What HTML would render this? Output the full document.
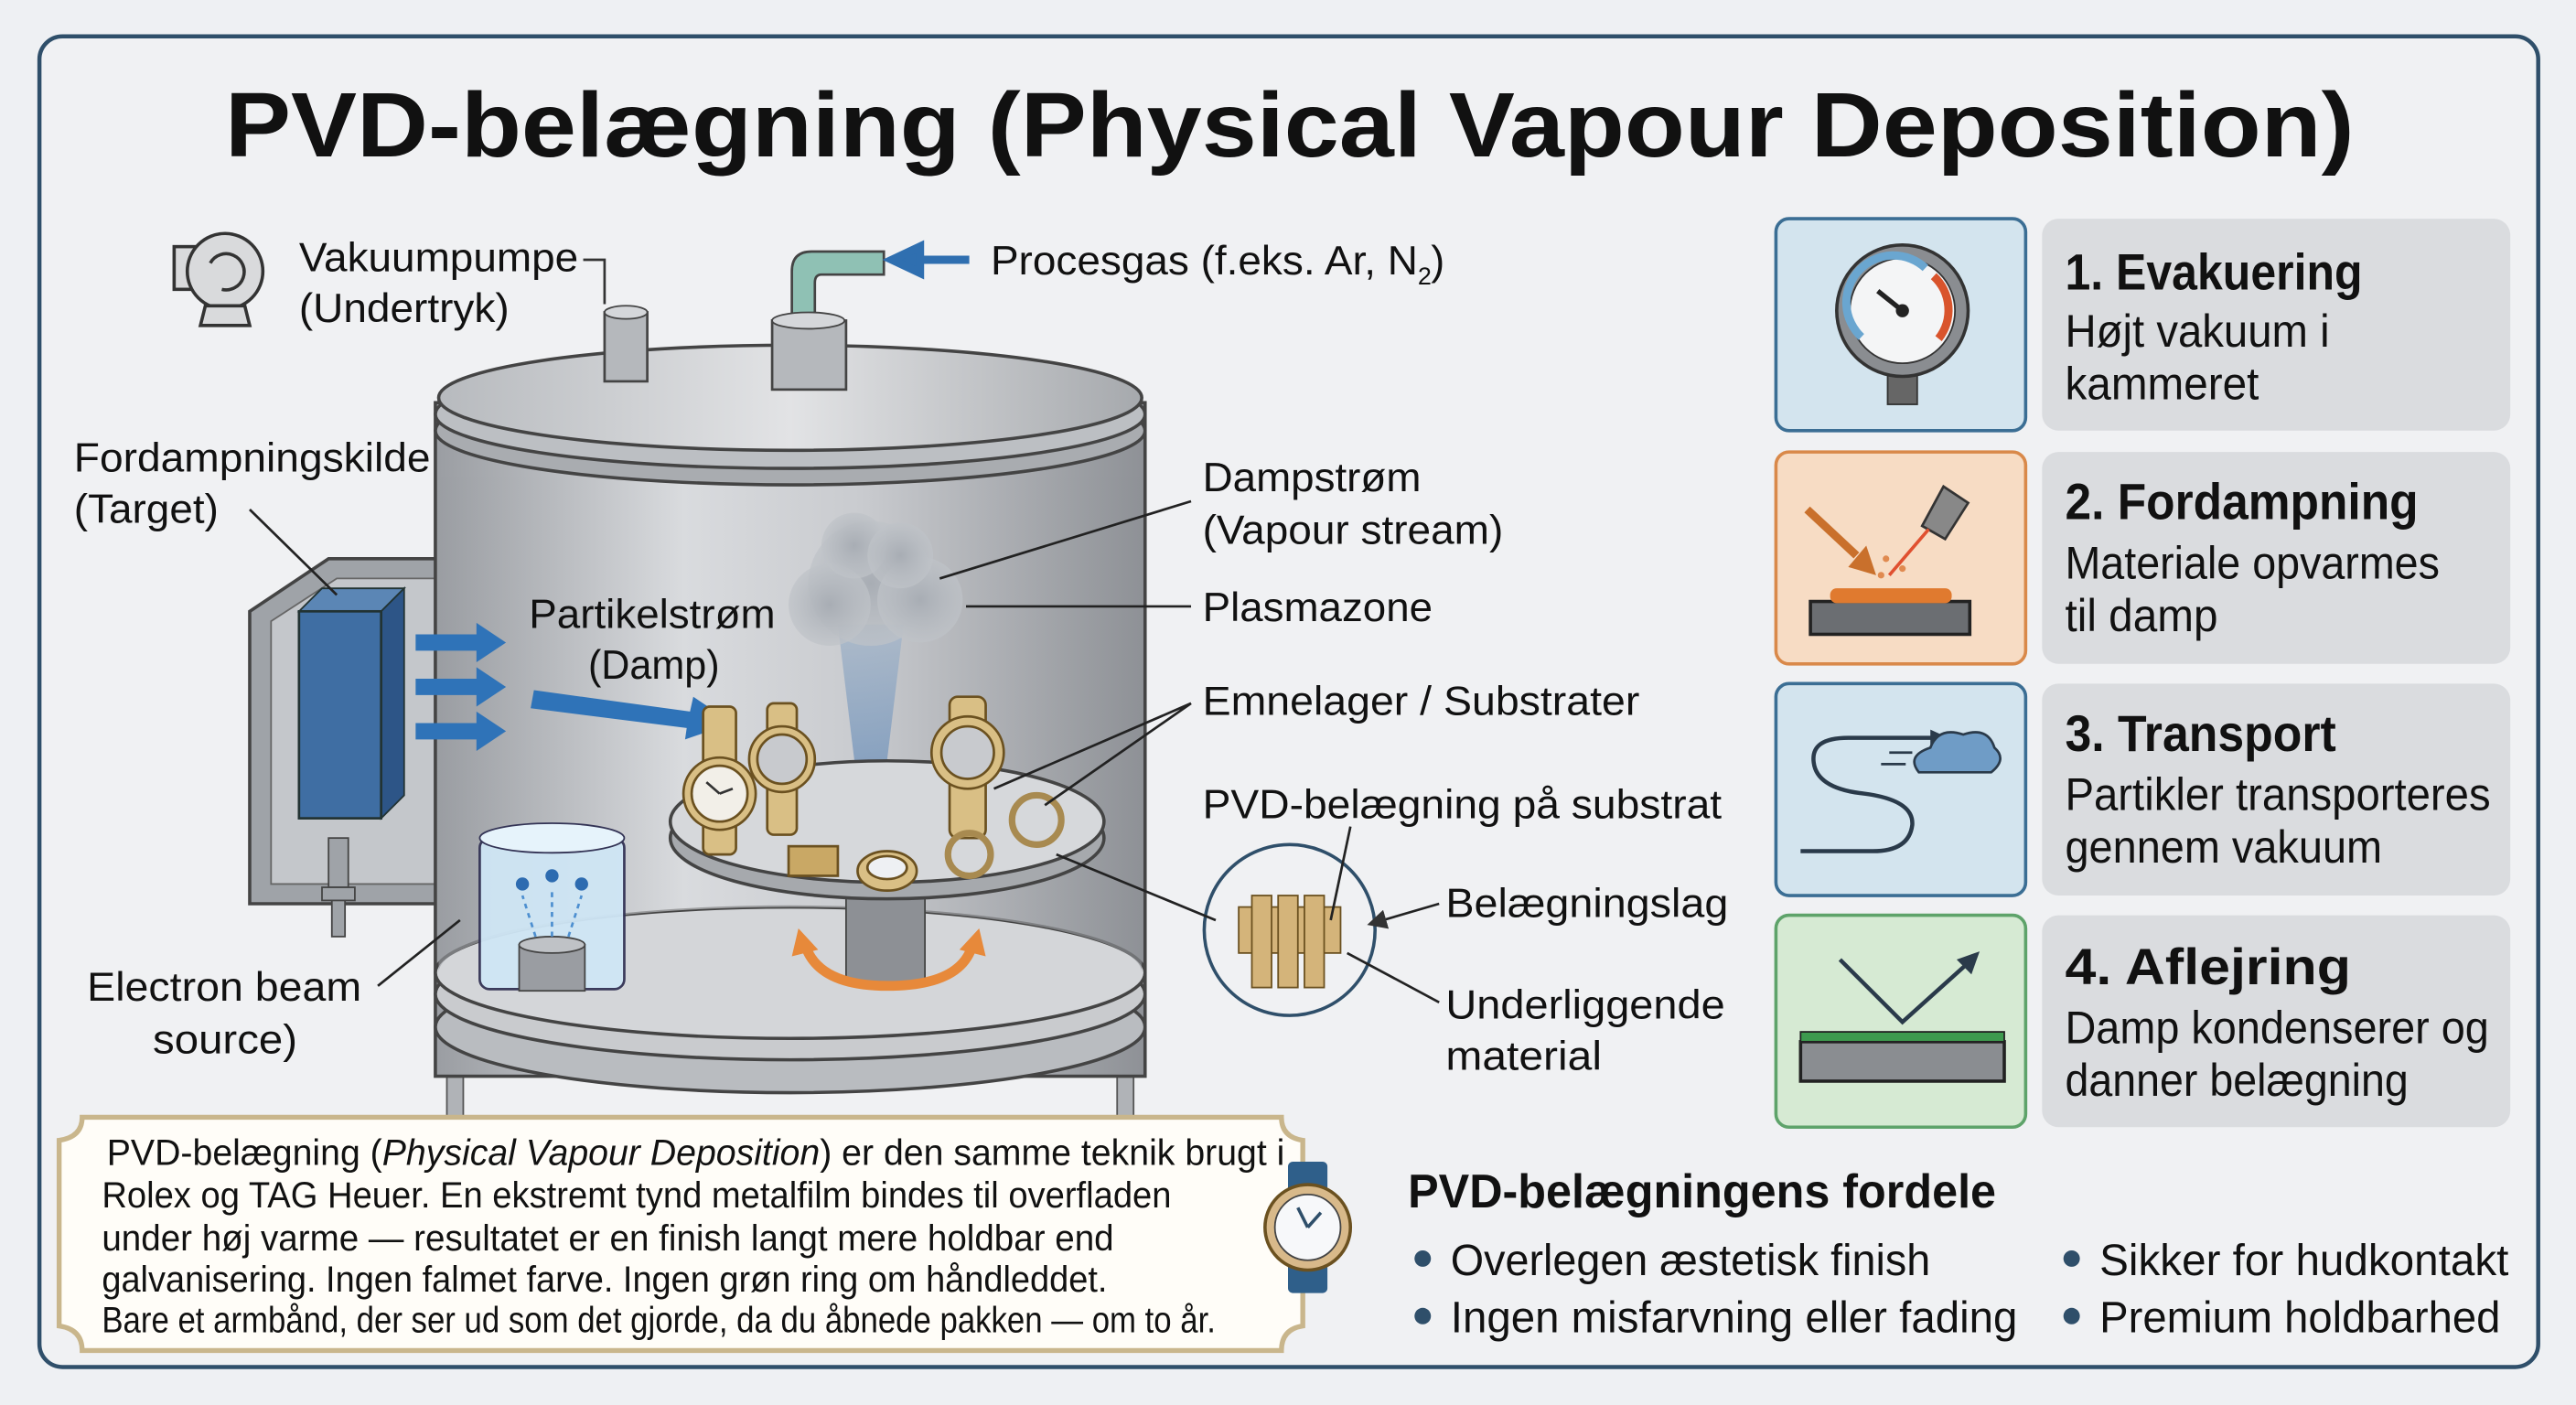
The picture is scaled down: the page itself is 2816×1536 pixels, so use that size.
<!DOCTYPE html>
<html><head><meta charset="utf-8"><style>
html,body{margin:0;padding:0;background:#eef0f3;}
svg{display:block;}
text{font-family:"Liberation Sans",sans-serif;fill:#111;}
</style></head><body>
<svg width="2816" height="1536" viewBox="0 0 1568 855" xmlns="http://www.w3.org/2000/svg">
<defs>
<linearGradient id="body" x1="0" x2="1" y1="0" y2="0">
<stop offset="0" stop-color="#9a9da2"/><stop offset="0.35" stop-color="#d9dbde"/><stop offset="0.6" stop-color="#c9cbcf"/><stop offset="1" stop-color="#8e9196"/></linearGradient>
<linearGradient id="lid" x1="0" x2="1"><stop offset="0" stop-color="#b7babe"/><stop offset="0.5" stop-color="#e2e3e5"/><stop offset="1" stop-color="#a6a9ad"/></linearGradient>
<linearGradient id="cone" x1="0" x2="0" y1="0" y2="1"><stop offset="0" stop-color="#a9b8c9"/><stop offset="1" stop-color="#5f87b6"/></linearGradient>
<radialGradient id="cloud"><stop offset="0" stop-color="#a8adb4"/><stop offset="1" stop-color="#bfc3c8" stop-opacity="0.7"/></radialGradient>
<marker id="ah" markerWidth="8" markerHeight="8" refX="6" refY="4" orient="auto"><path d="M0,0 L8,4 L0,8z" fill="#333"/></marker>
</defs>
<rect x="0" y="0" width="1568" height="855" fill="#eef0f3"/>
<rect x="24" y="22" width="1521" height="810" rx="14" fill="#f0f1f3" stroke="#2f4f6a" stroke-width="2.5"/>
<text x="785" y="95" text-anchor="middle" font-size="56" font-weight="bold" textLength="1296" lengthAdjust="spacingAndGlyphs">PVD-belægning (Physical Vapour Deposition)</text>

<rect x="272" y="600" width="10" height="80" fill="#b0b3b7" stroke="#555"/>
<rect x="680" y="600" width="10" height="80" fill="#b0b3b7" stroke="#555"/>
<path d="M152,372 L200,340 L290,340 L290,550 L152,550 Z" fill="#9fa3a8" stroke="#444" stroke-width="2"/>
<path d="M165,378 L205,352 L280,352 L280,538 L165,538 Z" fill="#c4c7cb" stroke="#666"/>
<rect x="265" y="245" width="432" height="410" fill="url(#body)" stroke="#444" stroke-width="2"/>
<ellipse cx="481" cy="625" rx="216" ry="40" fill="#b9bcc0" stroke="#444" stroke-width="2"/>
<ellipse cx="481" cy="605" rx="216" ry="40" fill="#c9cbce" stroke="#444" stroke-width="2"/>
<ellipse cx="481" cy="592" rx="216" ry="40" fill="#d4d6d9" stroke="#444" stroke-width="2"/>
<path d="M267,592 L267,290 L695,290 L695,592 A214,40 0 0 0 267,592 Z" fill="url(#body)" opacity="0.6"/>
<ellipse cx="481" cy="262" rx="216" ry="33" fill="#a9acb0" stroke="#444" stroke-width="2"/>
<ellipse cx="481" cy="252" rx="216" ry="33" fill="#bcbfc3" stroke="#444" stroke-width="2"/>
<ellipse cx="481" cy="242" rx="214" ry="32" fill="url(#lid)" stroke="#444" stroke-width="2"/>
<rect x="368" y="190" width="26" height="42" fill="#b5b8bc" stroke="#444" stroke-width="1.5"/>
<ellipse cx="381" cy="190" rx="13" ry="4" fill="#d5d7da" stroke="#444"/>
<path d="M482,196 L482,165 Q482,153 494,153 L538,153 L538,167 L500,167 Q496,167 496,172 L496,196 Z" fill="#8fc1b4" stroke="#444" stroke-width="1.5"/>
<rect x="470" y="195" width="45" height="42" fill="#b5b8bc" stroke="#444" stroke-width="1.5"/>
<ellipse cx="492" cy="195" rx="22" ry="5" fill="#d5d7da" stroke="#444"/>
<path d="M590,158 L560,158 L560,150 L543,158 L560,166 L560,158" fill="#2f6fb0" stroke="#2f6fb0" stroke-width="5"/>
<g stroke="#333" stroke-width="2" fill="#d9dadc">
<rect x="106" y="150" width="14" height="26"/>
<circle cx="137" cy="165" r="23"/>
<path d="M125,186 L149,186 L152,198 L122,198 Z"/>
<path d="M128,160 A11,11 0 1 1 135,176" fill="none"/>
</g>
<path d="M355,158 L368,158 L368,185" fill="none" stroke="#333" stroke-width="1.5"/>
<path d="M182,372 L196,358 L246,358 L232,372 Z" fill="#5b86b5" stroke="#233"/>
<path d="M232,372 L246,358 L246,484 L232,498 Z" fill="#2d5587" stroke="#233"/>
<rect x="182" y="372" width="50" height="126" fill="#3f6ea3" stroke="#233" stroke-width="1.5"/>
<g fill="#2f73b8">
<path d="M253,386 L290,386 L290,379 L308,391 L290,403 L290,396 L253,396Z"/>
<path d="M253,413 L290,413 L290,406 L308,418 L290,430 L290,423 L253,423Z"/>
<path d="M253,440 L290,440 L290,433 L308,445 L290,457 L290,450 L253,450Z"/>
<path d="M325,420 L420,433 L422,424 L446,440 L417,450 L418,443 L323,431Z"/>
</g>
<rect x="200" y="510" width="12" height="30" fill="#9fa3a8" stroke="#444"/>
<rect x="196" y="540" width="20" height="8" fill="#9fa3a8" stroke="#444"/>
<rect x="202" y="548" width="8" height="22" fill="#9fa3a8" stroke="#444"/>
<path d="M510,380 L550,380 L533,520 L527,520 Z" fill="url(#cone)" opacity="0.85"/>
<g fill="url(#cloud)">
<circle cx="530" cy="355" r="38"/><circle cx="505" cy="368" r="25"/><circle cx="560" cy="365" r="26"/><circle cx="520" cy="332" r="20"/><circle cx="548" cy="338" r="20"/>
</g>
<rect x="515" y="520" width="48" height="78" fill="#8d9095" stroke="#444"/>
<ellipse cx="540" cy="510" rx="132" ry="37" fill="#a6a9ad" stroke="#444" stroke-width="2"/>
<ellipse cx="540" cy="500" rx="132" ry="37" fill="#d6d8db" stroke="#444" stroke-width="2"/>
<path d="M490,575 Q498,600 540,600 Q585,600 592,575" fill="none" stroke="#e7893a" stroke-width="6"/>
<path d="M486,565 L482,582 L498,578Z M596,565 L600,582 L584,578Z" fill="#e7893a"/>
<!-- watches -->
<g stroke="#6b5120" stroke-width="1.5">
<rect x="428" y="430" width="20" height="90" rx="4" fill="#d9bf85"/>
<circle cx="438" cy="483" r="22" fill="#d9bf85"/>
<circle cx="438" cy="483" r="17" fill="#f2efe8"/>
<path d="M438,483 L430,476 M438,483 L446,480" stroke="#333"/>
<rect x="467" y="428" width="18" height="80" rx="4" fill="#d9bf85"/>
<circle cx="476" cy="462" r="20" fill="#d9bf85"/>
<circle cx="476" cy="462" r="15" fill="#c8cace"/>
<rect x="578" y="424" width="22" height="86" rx="5" fill="#d9bf85"/>
<circle cx="589" cy="458" r="22" fill="#d9bf85"/>
<circle cx="589" cy="458" r="16" fill="#c8cace"/>
<circle cx="631" cy="499" r="15" fill="none" stroke="#a88a50" stroke-width="4"/>
<circle cx="590" cy="520" r="13" fill="none" stroke="#a88a50" stroke-width="4"/>
<ellipse cx="540" cy="530" rx="18" ry="12" fill="#d9bf85"/>
<ellipse cx="540" cy="528" rx="12" ry="7" fill="#eef0f3"/>
<rect x="480" y="515" width="30" height="18" fill="#c9a865"/>
</g>
<rect x="292" y="510" width="88" height="92" rx="6" fill="#cfe6f5" stroke="#335" stroke-width="1.5" opacity="0.95"/>
<ellipse cx="336" cy="510" rx="44" ry="9" fill="#e6f3fb" stroke="#335"/>
<rect x="316" y="575" width="40" height="28" fill="#9a9da2" stroke="#444"/>
<ellipse cx="336" cy="575" rx="20" ry="5" fill="#bfc2c6" stroke="#444"/>
<g fill="#2d6bb0"><circle cx="318" cy="538" r="4"/><circle cx="336" cy="533" r="4"/><circle cx="354" cy="538" r="4"/></g>
<g stroke="#4d8fd0" stroke-dasharray="3,3" stroke-width="1.5"><path d="M326,570 L318,545 M336,570 L336,540 M346,570 L354,545"/></g>
<circle cx="785" cy="566" r="52" fill="#f0f1f3" stroke="#2f4f6a" stroke-width="2"/>
<g fill="#d4b47a" stroke="#6b5120"><rect x="754" y="552" width="62" height="28"/><rect x="762" y="545" width="12" height="56"/><rect x="778" y="545" width="12" height="56"/><rect x="794" y="545" width="12" height="56"/></g>
<g stroke="#222" stroke-width="1.5" fill="none">
<path d="M152,310 L205,362"/>
<path d="M230,600 L280,560"/>
<path d="M725,305 L572,352"/>
<path d="M725,369 L588,369"/>
<path d="M725,428 L605,480 M725,428 L636,490"/>
<path d="M643,520 L740,560"/>
<path d="M822,503 L810,560"/>
<path d="M876,550 L835,562" marker-end="url(#ah)"/>
<path d="M876,610 L820,580"/>
</g>
<g font-size="25">
<text x="182" y="165" textLength="170" lengthAdjust="spacingAndGlyphs">Vakuumpumpe</text>
<text x="182" y="196" textLength="128" lengthAdjust="spacingAndGlyphs">(Undertryk)</text>
<text x="603" y="167" textLength="260" lengthAdjust="spacingAndGlyphs">Procesgas (f.eks. Ar, N</text><text x="863" y="173" font-size="15">2</text><text x="871" y="167">)</text>
<text x="45" y="287" textLength="217" lengthAdjust="spacingAndGlyphs">Fordampningskilde</text>
<text x="45" y="318" textLength="88" lengthAdjust="spacingAndGlyphs">(Target)</text>
<text x="322" y="382" textLength="150" lengthAdjust="spacingAndGlyphs">Partikelstrøm</text>
<text x="358" y="413" textLength="80" lengthAdjust="spacingAndGlyphs">(Damp)</text>
<text x="53" y="609" textLength="167" lengthAdjust="spacingAndGlyphs">Electron beam</text>
<text x="93" y="641" textLength="88" lengthAdjust="spacingAndGlyphs">source)</text>
<text x="732" y="299" textLength="133" lengthAdjust="spacingAndGlyphs">Dampstrøm</text>
<text x="732" y="331" textLength="183" lengthAdjust="spacingAndGlyphs">(Vapour stream)</text>
<text x="732" y="378" textLength="140" lengthAdjust="spacingAndGlyphs">Plasmazone</text>
<text x="732" y="435" textLength="266" lengthAdjust="spacingAndGlyphs">Emnelager / Substrater</text>
<text x="732" y="498" textLength="316" lengthAdjust="spacingAndGlyphs">PVD-belægning på substrat</text>
<text x="880" y="558" textLength="172" lengthAdjust="spacingAndGlyphs">Belægningslag</text>
<text x="880" y="620" textLength="170" lengthAdjust="spacingAndGlyphs">Underliggende</text>
<text x="880" y="651" textLength="95" lengthAdjust="spacingAndGlyphs">material</text>
</g>
<g>
<rect x="1081" y="133" width="152" height="129" rx="8" fill="#d3e4ee" stroke="#3b6e94" stroke-width="2"/>
<rect x="1081" y="275" width="152" height="129" rx="8" fill="#f7dcc4" stroke="#d9894a" stroke-width="2"/>
<rect x="1081" y="416" width="152" height="129" rx="8" fill="#d3e4ee" stroke="#3b6e94" stroke-width="2"/>
<rect x="1081" y="557" width="152" height="129" rx="8" fill="#d6ead3" stroke="#5ea36a" stroke-width="2"/>
<rect x="1243" y="133" width="285" height="129" rx="10" fill="#dadcdf"/>
<rect x="1243" y="275" width="285" height="129" rx="10" fill="#dadcdf"/>
<rect x="1243" y="416" width="285" height="129" rx="10" fill="#dadcdf"/>
<rect x="1243" y="557" width="285" height="129" rx="10" fill="#dadcdf"/>
</g>
<rect x="1149" y="220" width="18" height="26" fill="#666" stroke="#333"/>
<circle cx="1158" cy="189" r="40" fill="#8a8d91" stroke="#333" stroke-width="2"/>
<circle cx="1158" cy="189" r="32" fill="#f4f5f6" stroke="#333"/>
<path d="M1133,205 A28,28 0 0 1 1172,163" fill="none" stroke="#6aa6d0" stroke-width="5"/>
<path d="M1177,168 A28,28 0 0 1 1180,206" fill="none" stroke="#d9542c" stroke-width="5"/>
<path d="M1158,189 L1143,177" stroke="#222" stroke-width="3"/><circle cx="1158" cy="189" r="4" fill="#222"/>
<rect x="1102" y="366" width="97" height="20" fill="#6b6e72" stroke="#222" stroke-width="2"/>
<rect x="1114" y="358" width="74" height="9" rx="4" fill="#e07a2f"/>
<path d="M1100,310 L1130,338" stroke="#c9702c" stroke-width="5"/><path d="M1125,345 L1142,350 L1136,332Z" fill="#c9702c"/>
<path d="M1170,320 L1183,296 L1198,306 L1184,328Z" fill="#888" stroke="#333" stroke-width="1.5"/>
<path d="M1174,322 L1150,350" stroke="#e05030" stroke-width="2"/>
<g fill="#e08a50"><circle cx="1148" cy="340" r="2"/><circle cx="1158" cy="346" r="2"/><circle cx="1145" cy="350" r="2"/></g>
<path d="M1180,449 L1125,449 Q1102,449 1104,464 Q1106,480 1135,483 Q1165,487 1164,502 Q1162,518 1140,518 L1096,518" fill="none" stroke="#2a3a4a" stroke-width="2.5"/>
<path d="M1175,444 L1186,449 L1175,454Z" fill="#2a3a4a"/>
<g fill="#6f9cc6" stroke="#2a3a4a" stroke-width="1.5"><path d="M1168,470 Q1160,460 1175,455 Q1180,442 1195,447 Q1210,442 1214,455 Q1222,462 1212,470 Z"/></g>
<path d="M1150,458 L1164,458 M1145,465 L1160,465" stroke="#2a3a4a" stroke-width="1.5"/>
<rect x="1096" y="634" width="124" height="24" fill="#8a8d91" stroke="#222" stroke-width="2"/>
<rect x="1096" y="628" width="124" height="6" fill="#3d9a4e" stroke="#222" stroke-width="1"/>
<path d="M1120,584 L1158,622 L1198,586" fill="none" stroke="#2a3a4a" stroke-width="2.5"/>
<path d="M1191,584 L1205,579 L1200,593Z" fill="#2a3a4a"/>
<g font-size="28">
<text x="1257" y="176" font-weight="bold" font-size="31" textLength="181" lengthAdjust="spacingAndGlyphs">1. Evakuering</text>
<text x="1257" y="211" textLength="161" lengthAdjust="spacingAndGlyphs">Højt vakuum i</text>
<text x="1257" y="243" textLength="118" lengthAdjust="spacingAndGlyphs">kammeret</text>
<text x="1257" y="316" font-weight="bold" font-size="31" textLength="215" lengthAdjust="spacingAndGlyphs">2. Fordampning</text>
<text x="1257" y="352" textLength="228" lengthAdjust="spacingAndGlyphs">Materiale opvarmes</text>
<text x="1257" y="384" textLength="93" lengthAdjust="spacingAndGlyphs">til damp</text>
<text x="1257" y="457" font-weight="bold" font-size="31" textLength="165" lengthAdjust="spacingAndGlyphs">3. Transport</text>
<text x="1257" y="493" textLength="259" lengthAdjust="spacingAndGlyphs">Partikler transporteres</text>
<text x="1257" y="525" textLength="193" lengthAdjust="spacingAndGlyphs">gennem vakuum</text>
<text x="1257" y="599" font-weight="bold" font-size="31" textLength="174" lengthAdjust="spacingAndGlyphs">4. Aflejring</text>
<text x="1257" y="635" textLength="258" lengthAdjust="spacingAndGlyphs">Damp kondenserer og</text>
<text x="1257" y="667" textLength="209" lengthAdjust="spacingAndGlyphs">danner belægning</text>
</g>
<path d="M50,680 L780,680 Q780,692 793,694 L793,807 Q780,809 780,822 L50,822 Q50,809 36,807 L36,694 Q50,692 50,680 Z" fill="#fffdf8" stroke="#c9b68c" stroke-width="3"/>
<g font-size="22">
<text x="65" y="709" textLength="717" lengthAdjust="spacingAndGlyphs">PVD-belægning (<tspan font-style="italic">Physical Vapour Deposition</tspan>) er den samme teknik brugt i</text>
<text x="62" y="735" textLength="651" lengthAdjust="spacingAndGlyphs">Rolex og TAG Heuer. En ekstremt tynd metalfilm bindes til overfladen</text>
<text x="62" y="761" textLength="616" lengthAdjust="spacingAndGlyphs">under høj varme — resultatet er en finish langt mere holdbar end</text>
<text x="62" y="786" textLength="612" lengthAdjust="spacingAndGlyphs">galvanisering. Ingen falmet farve. Ingen grøn ring om håndleddet.</text>
<text x="62" y="811" textLength="678" lengthAdjust="spacingAndGlyphs">Bare et armbånd, der ser ud som det gjorde, da du åbnede pakken — om to år.</text>
</g>
<rect x="784" y="707" width="24" height="80" rx="3" fill="#2f5f8a"/>
<circle cx="796" cy="747" r="26" fill="#d8b98a" stroke="#6b5120" stroke-width="2"/>
<circle cx="796" cy="747" r="20" fill="#f7f8fa" stroke="#444"/>
<path d="M796,747 L790,735 M796,747 L804,738" stroke="#2f4f6a" stroke-width="2"/>
<text x="857" y="735" font-size="29" font-weight="bold" textLength="358" lengthAdjust="spacingAndGlyphs">PVD-belægningens fordele</text>
<g fill="#2f4f6a"><circle cx="866" cy="766" r="5"/><circle cx="866" cy="801" r="5"/><circle cx="1261" cy="766" r="5"/><circle cx="1261" cy="801" r="5"/></g>
<g font-size="27">
<text x="883" y="776" textLength="292" lengthAdjust="spacingAndGlyphs">Overlegen æstetisk finish</text>
<text x="883" y="811" textLength="345" lengthAdjust="spacingAndGlyphs">Ingen misfarvning eller fading</text>
<text x="1278" y="776" textLength="249" lengthAdjust="spacingAndGlyphs">Sikker for hudkontakt</text>
<text x="1278" y="811" textLength="244" lengthAdjust="spacingAndGlyphs">Premium holdbarhed</text>
</g>
</svg>
</body></html>
